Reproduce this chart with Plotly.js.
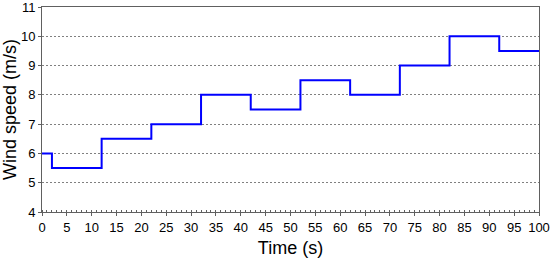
<!DOCTYPE html>
<html>
<head>
<meta charset="utf-8">
<script src="https://cdn.plot.ly/plotly-3.0.1.min.js"></script>
<style>
  html, body { margin: 0; padding: 0; background: #fff; }
  #chart { width: 550px; height: 262px; }
</style>
</head>
<body>
<div id="chart"></div>
<script>
// step changes of wind speed
var timeS = [0, 2, 12, 22, 32, 42, 52, 62, 72, 82, 92, 100];
var windSpeed = [6, 5.5, 6.5, 7, 8, 7.5, 8.5, 8, 9, 10, 9.5, 9.5];

var trace = {
    x: timeS,
    y: windSpeed,
    type: 'scatter',
    mode: 'lines',
    line: { shape: 'hv', color: '#0000ff', width: 2 },
    hoverinfo: 'none'
};

var fam = 'Liberation Sans, Arial, sans-serif';
var axisFont = { family: fam, size: 13, color: '#000' };

var layout = {
    width: 550,
    height: 262,
    margin: { l: 42, r: 11, t: 7, b: 50 },
    paper_bgcolor: '#fff',
    plot_bgcolor: '#fff',
    showlegend: false,
    xaxis: {
        range: [0, 100],
        dtick: 5,
        tick0: 0,
        ticks: 'outside',
        ticklen: 3,
        tickcolor: '#606060',
        ticklabelstandoff: 0,
        ticklabeloverflow: 'allow',
        showgrid: false,
        zeroline: false,
        showline: true,
        linecolor: '#606060',
        linewidth: 1,
        mirror: true,
        tickfont: axisFont,
        minor: { dtick: 1, ticks: 'inside', ticklen: 2, tickcolor: '#606060', showgrid: false },
        title: { text: 'Time (s)', font: { family: fam, size: 18, color: '#000' }, standoff: 7 }
    },
    yaxis: {
        range: [4, 11],
        dtick: 1,
        ticks: 'outside',
        ticklen: 3,
        tickcolor: '#606060',
        ticklabeloverflow: 'allow',
        showgrid: true,
        gridcolor: '#808080',
        griddash: '2px,2px',
        gridwidth: 1,
        zeroline: false,
        showline: true,
        linecolor: '#606060',
        linewidth: 1,
        mirror: true,
        tickfont: axisFont,
        title: { text: 'Wind speed (m/s)', font: { family: fam, size: 18, color: '#000' }, standoff: 4 }
    }
};

Plotly.newPlot('chart', [trace], layout, { displayModeBar: false, staticPlot: true });
</script>
</body>
</html>
